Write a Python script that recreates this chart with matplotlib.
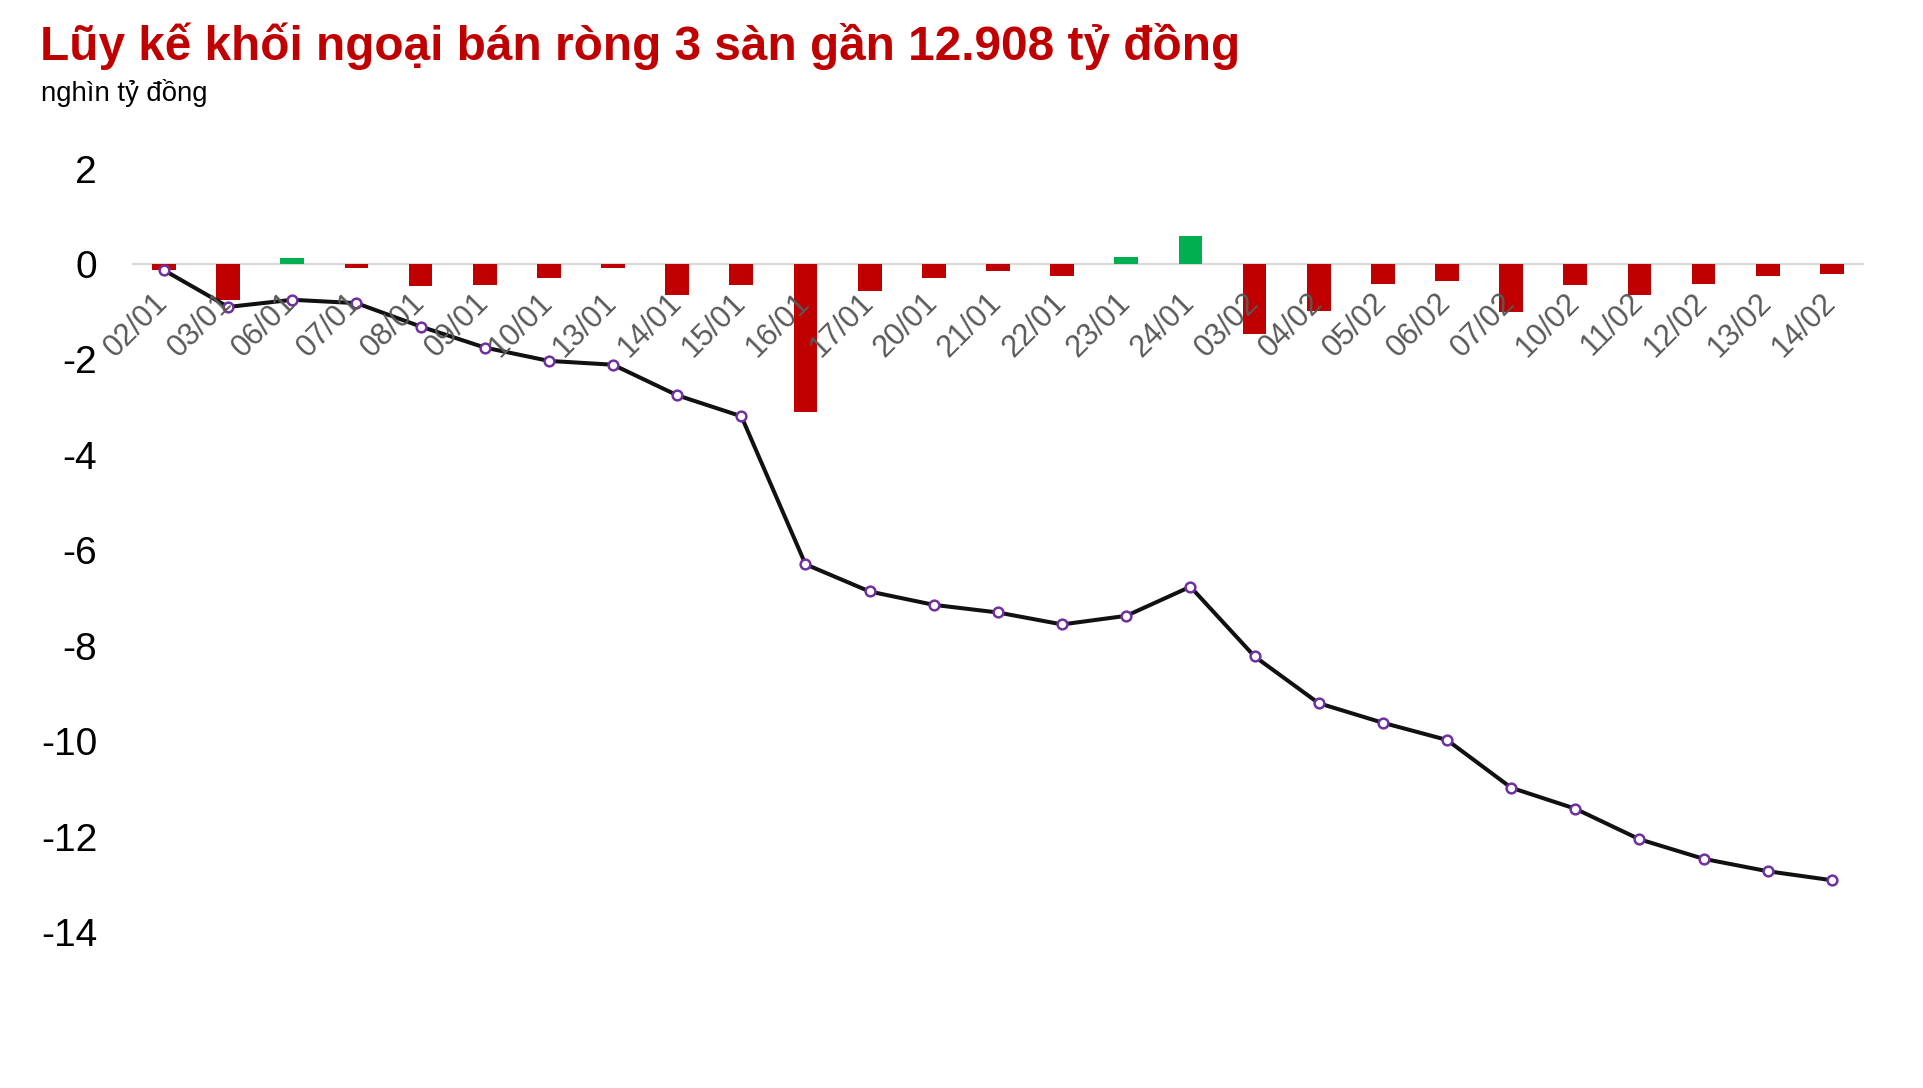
import matplotlib
matplotlib.use("Agg")
import matplotlib.pyplot as plt
import numpy as np

# daily net foreign trading (thousand billion VND) and running total
dates = ["02/01", "03/01", "06/01", "07/01", "08/01", "09/01", "10/01", "13/01", "14/01",
         "15/01", "16/01", "17/01", "20/01", "21/01", "22/01", "23/01", "24/01", "03/02",
         "04/02", "05/02", "06/02", "07/02", "10/02", "11/02", "12/02", "13/02", "14/02"]
daily_net = [-0.13, -0.76, 0.13, -0.09, -0.47, -0.45, -0.30, -0.09, -0.66,
             -0.45, -3.10, -0.57, -0.30, -0.15, -0.26, 0.15, 0.59, -1.47,
             -0.99, -0.42, -0.36, -1.01, -0.45, -0.64, -0.42, -0.26, -0.22]
cumulative = [-0.13, -0.90, -0.75, -0.82, -1.31, -1.75, -2.03, -2.11, -2.75,
              -3.19, -6.29, -6.86, -7.14, -7.30, -7.55, -7.37, -6.76, -8.22,
              -9.20, -9.61, -9.97, -10.97, -11.41, -12.05, -12.46, -12.72, -12.908]
y_ticks = [2, 0, -2, -4, -6, -8, -10, -12, -14]

RED = "#C00000"
GREEN = "#00B050"

plt.rcParams["font.family"] = ["Liberation Sans", "DejaVu Sans"]

fig = plt.figure(figsize=(19.23, 10.88), dpi=100)
ax = fig.add_axes([0.0686, 0.0553, 0.9007, 0.8337])

x = np.arange(len(dates))
colors = [GREEN if v > 0 else RED for v in daily_net]
ax.axhline(0, color="#D9D9D9", linewidth=1.6, zorder=1)
ax.bar(x, daily_net, width=0.37, color=colors, zorder=2)
ax.plot(x, cumulative, color="#111111", linewidth=2.9, marker="o", markersize=7,
        markerfacecolor="white", markeredgecolor="#7030A0", markeredgewidth=1.8, zorder=3)

ax.set_xlim(-0.5, len(dates) - 0.5)
ax.set_ylim(-16, 3)
ax.set_yticks(y_ticks)
ax.set_yticklabels([str(t) for t in y_ticks], fontsize=28, color="black")
ax.tick_params(axis="y", length=0, pad=25)

# date labels hang just below the zero line
for i, d in enumerate(dates):
    ax.annotate(d, xy=(i, 0), xytext=(-8, -17), textcoords="offset points",
                rotation=45, ha="right", va="top", rotation_mode="anchor",
                fontsize=22, color="#595959", zorder=4)
ax.set_xticks([])

for side in ["top", "right", "left", "bottom"]:
    ax.spines[side].set_visible(False)

fig.text(40 / 1923, 1 - 60 / 1088, "Lũy kế khối ngoại bán ròng 3 sàn gần 12.908 tỷ đồng",
         fontsize=34.4, fontweight="bold", color=RED, ha="left", va="baseline")
fig.text(41 / 1923, 1 - 101 / 1088, "nghìn tỷ đồng", fontsize=19.8, color="black",
         ha="left", va="baseline")

fig.savefig("out.png", dpi=100)
